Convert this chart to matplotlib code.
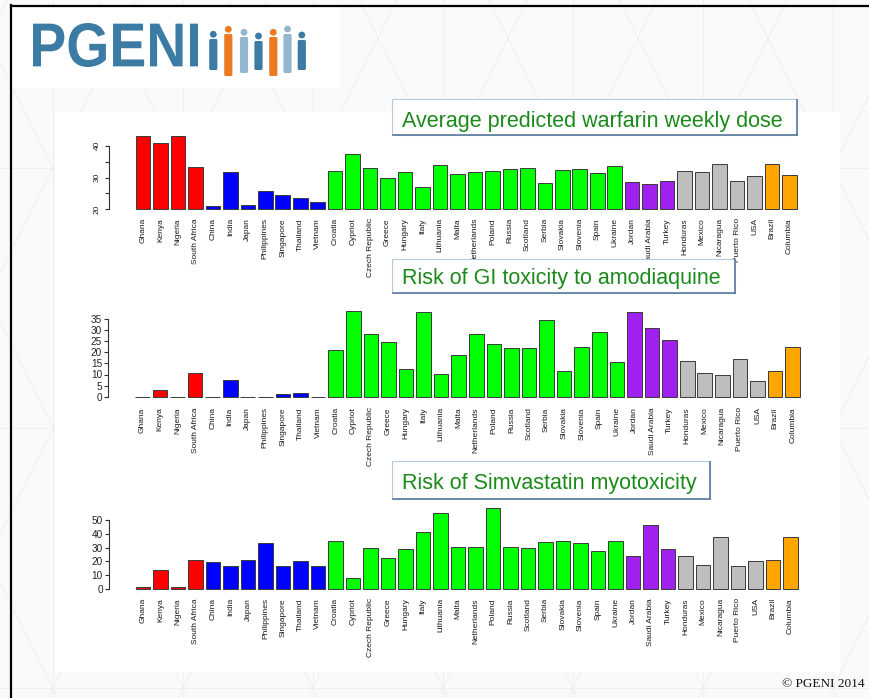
import numpy as np
import matplotlib
matplotlib.use('Agg')
import matplotlib.pyplot as plt
from matplotlib.patches import Rectangle, Circle, FancyBboxPatch, PathPatch
from matplotlib.textpath import TextPath
from matplotlib.font_manager import FontProperties
from matplotlib.path import Path

plt.rcParams['font.family'] = ['Liberation Sans', 'DejaVu Sans']

# countries in plotting order, grouped by region
countries = ['Ghana', 'Kenya', 'Nigeria', 'South Africa',
             'China', 'India', 'Japan', 'Philippines', 'Singapore', 'Thailand', 'Vietnam',
             'Croatia', 'Cypriot', 'Czech Republic', 'Greece', 'Hungary', 'Italy', 'Lithuania',
             'Malta', 'Netherlands', 'Poland', 'Russia', 'Scotland', 'Serbia', 'Slovakia',
             'Slovenia', 'Spain', 'Ukraine',
             'Jordan', 'Saudi Arabia', 'Turkey',
             'Honduras', 'Mexico', 'Nicaragua', 'Puerto Rico', 'USA',
             'Brazil', 'Columbia']
regions = ['africa'] * 4 + ['asia'] * 7 + ['europe'] * 17 + ['mideast'] * 3 + \
          ['america'] * 5 + ['south'] * 2
region_colors = {'africa': '#FF0000', 'asia': '#0000FF', 'europe': '#00FF00',
                 'mideast': '#A020F0', 'america': '#BEBEBE', 'south': '#FFA500'}

warfarin = [43.1, 41.0, 43.0, 33.2,
            21.0, 31.7, 21.4, 25.8, 24.5, 23.6, 22.2,
            31.9, 37.3, 32.9, 29.7, 31.6, 27.1, 33.9, 31.2, 31.6, 31.9, 32.6, 32.9,
            28.4, 32.3, 32.8, 31.5, 33.6,
            28.6, 28.0, 28.8,
            31.9, 31.6, 34.1, 28.8, 30.4,
            34.2, 30.9]
amodiaquine = [0, 3.0, 0, 10.7,
               0, 7.5, 0, 0, 1.0, 1.8, 0,
               21.0, 38.7, 28.1, 24.6, 12.3, 38.1, 10.1, 18.8, 28.4, 23.7, 21.9, 21.9,
               34.4, 11.7, 22.4, 29.3, 15.5,
               38.3, 30.8, 25.5,
               16.2, 10.7, 9.6, 16.8, 7.1,
               11.6, 22.2]
simvastatin = [1.0, 13.4, 1.5, 20.7,
               19.3, 16.8, 20.7, 33.4, 16.6, 20.0, 16.4,
               34.9, 7.6, 29.5, 22.2, 29.2, 41.2, 55.1, 30.3, 30.3, 59.2, 30.7, 29.7,
               34.1, 34.6, 33.4, 27.8, 34.6,
               23.9, 46.3, 29.0,
               23.9, 17.5, 37.8, 16.8, 20.0,
               21.0, 38.0]

titles = ['Average predicted warfarin weekly dose',
          'Risk of GI toxicity to amodiaquine',
          'Risk of Simvastatin myotoxicity']

W, H = 869, 698
fig = plt.figure(figsize=(W / 100, H / 100), dpi=100)
fig.patch.set_facecolor('#fafafa')

# slide background, drawn in pixel coordinates
bg = fig.add_axes([0, 0, 1, 1], zorder=-5)
bg.set_xlim(0, W)
bg.set_ylim(H, 0)
bg.axis('off')

line_col = '#ebebeb'
for k in range(-8, 10):
    x0 = 53 + 130 * k
    bg.plot([x0, x0], [0, H], color=line_col, lw=0.5)
    for dx in (H / 2, -H / 2):
        for dy in (H, -H):
            bg.plot([x0, x0 + dx], [168, 168 + dy], color=line_col, lw=0.5)
for yy in [168, 428, 688]:
    bg.plot([0, W], [yy, yy], color=line_col, lw=0.5)

# white area holding the charts, and the logo strip
bg.add_patch(Rectangle((55, 112), 785, 560, facecolor='white', edgecolor='none', zorder=3))
bg.add_patch(Rectangle((12, 7), 328, 81, facecolor='white', edgecolor='none', zorder=3))

# slide border
bg.plot([11, 11], [5, H], color='black', lw=1.6, zorder=4)
bg.plot([11, W], [5.5, 5.5], color='black', lw=1.6, zorder=4)

# PGENI logo text, stretched into a condensed shape
fp = FontProperties(family='Liberation Sans', weight='bold')
tp = TextPath((0, 0), 'PGENI', size=1, prop=fp)
bb = tp.get_extents()
verts = tp.vertices.copy()
verts[:, 0] = 33 + (verts[:, 0] - bb.x0) / bb.width * 165
verts[:, 1] = 67 - (verts[:, 1] - bb.y0) / bb.height * 44
bg.add_patch(PathPatch(Path(verts, tp.codes), facecolor='#3b7ba4', edgecolor='none', zorder=5))

# little people next to the logo
dark, orange, light = '#3b7ba4', '#ec7a23', '#93b6d0'
people = [(213.3, 34.3, 39, 70, dark), (228.3, 29.3, 34, 76, orange),
          (244.0, 32.3, 37, 73, light), (258.5, 36.0, 41, 70, dark),
          (273.3, 32.3, 37, 76, orange), (287.5, 29.0, 34, 73, light),
          (301.8, 35.0, 40, 70, dark)]
for cx, hy, top, bot, c in people:
    bg.add_patch(Circle((cx, hy), 3.4, facecolor=c, edgecolor='none', zorder=5))
    bg.add_patch(FancyBboxPatch((cx - 2.6, top + 1.5), 5.2, bot - top - 3,
                                boxstyle='round,pad=1.5', facecolor=c,
                                edgecolor='none', zorder=5))

x = 0.7 + 1.2 * np.arange(len(countries))
bar_cols = [region_colors[r] for r in regions]
label_font = ['Liberation Sans Narrow', 'Liberation Sans', 'DejaVu Sans']


def add_panel(values, bar_px, cal, ylim, base, yticks, ylabels, rot, label_pad, fs):
    left_px, right_px = bar_px
    pitch = (right_px - left_px) / 45.4
    ax_l = left_px - 1.816 * pitch
    ax_r = right_px + 1.816 * pitch
    (v0, p0), (v1, p1) = cal
    scale = (p0 - p1) / (v1 - v0)
    bot_px = p0 + (v0 - ylim[0]) * scale
    top_px = p0 - (ylim[1] - v0) * scale
    ax = fig.add_axes([ax_l / W, 1 - bot_px / H, (ax_r - ax_l) / W, (bot_px - top_px) / H])
    ax.set_facecolor('none')
    ax.set_xlim(-1.616, 47.416)
    ax.set_ylim(*ylim)
    heights = np.array(values) - base
    ax.bar(x, heights, bottom=base, width=1.0, color=bar_cols,
           edgecolor='#3a3a3a', linewidth=0.7)
    for s in ['top', 'right', 'bottom']:
        ax.spines[s].set_visible(False)
    ax.spines['left'].set_bounds(yticks[0], yticks[-1])
    ax.spines['left'].set_color('#333333')
    ax.spines['left'].set_linewidth(0.8)
    ax.set_yticks(yticks, ylabels)
    ax.tick_params(axis='y', length=3, width=0.8, color='#333333',
                   labelsize=fs, labelcolor='#222222', pad=1.5 if rot == 0 else 3)
    if rot:
        for t in ax.get_yticklabels():
            t.set_rotation(90)
            t.set_va('center')
    ax.set_xticks(x, countries, rotation=90, fontsize=6.0, color='#1a1a1a',
                  family=label_font)
    ax.tick_params(axis='x', length=0, pad=label_pad)
    return ax


add_panel(warfarin, (135.7, 796.7), ((20, 209.3), (40, 145.7)), (19, 45), 20,
          [20, 25, 30, 35, 40], ['20', '', '30', '', '40'], 90, 4.0, 6)
add_panel(amodiaquine, (135.0, 800.0), ((0, 396.7), (35, 319.0)), (-1.5, 40), 0,
          list(range(0, 40, 5)), [str(v) for v in range(0, 40, 5)], 0, 5.2, 7.2)
add_panel(simvastatin, (135.7, 797.7), ((0, 588.7), (50, 520.3)), (-2.4, 62), 0,
          list(range(0, 60, 10)), [str(v) for v in range(0, 60, 10)], 0, 4.5, 7.2)

# title boxes sit on top of everything
ov = fig.add_axes([0, 0, 1, 1], zorder=5)
ov.set_facecolor('none')
ov.set_xlim(0, W)
ov.set_ylim(H, 0)
ov.axis('off')

boxes = [(391.7, 99.3, 797.0, 135.0, 126.5),
         (391.7, 259.3, 735.0, 293.3, 284.3),
         (391.7, 460.7, 710.0, 499.3, 489.3)]
for title, (x0, y0, x1, y1, base_y) in zip(titles, boxes):
    ov.add_patch(Rectangle((x0, y0), x1 - x0, y1 - y0, facecolor='white',
                           edgecolor='#b4cae2', lw=0.8))
    ov.plot([x1, x1], [y0 + 1, y1], color='#5b7aa0', lw=1.2)
    ov.plot([x0 + 1, x1], [y1, y1], color='#5b7aa0', lw=1.2)
    ov.text(x0 + 10, base_y, title, color='#1b8a1b', fontsize=15.5,
            ha='left', va='baseline')

ov.text(865, 687, '\u00a9 PGENI 2014', fontsize=9.5, ha='right', va='baseline',
        family=['Liberation Serif', 'DejaVu Serif'], color='#111111')

fig.savefig('out.png', dpi=100)
